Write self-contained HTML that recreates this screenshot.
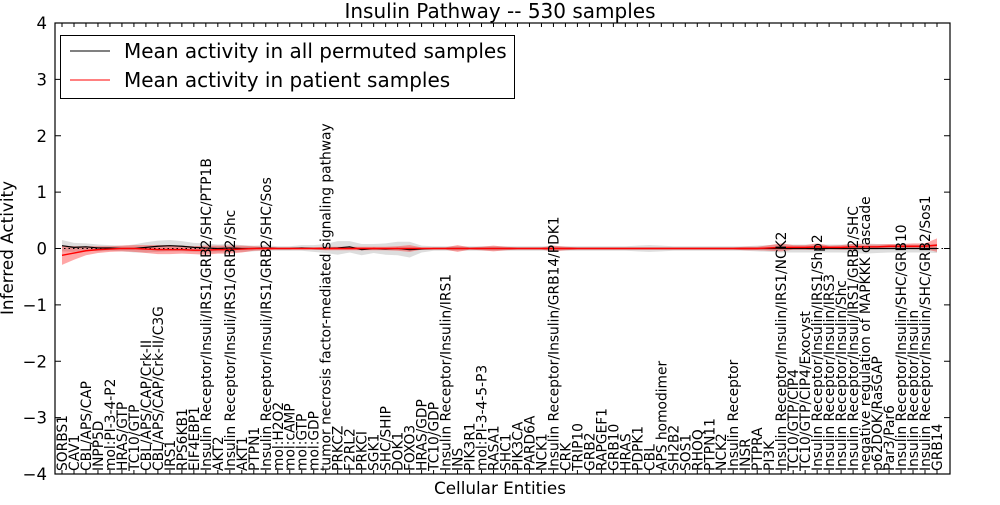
<!DOCTYPE html>
<html><head><meta charset="utf-8"><style>
body{margin:0;background:#fff;font-family:"Liberation Sans","DejaVu Sans",sans-serif;}
svg text{font-family:"DejaVu Sans","Liberation Sans",sans-serif;}
</style></head><body>
<svg id="chart" width="1000" height="500" xmlns="http://www.w3.org/2000/svg">
<rect width="1000" height="500" fill="#fff"/>
<g id="plot"></g>
</svg>
<script>
const categories=["SORBS1","CAV1","CBL/APS/CAP","INPP5D","mol:PI-3-4-P2","HRAS/GTP","TC10/GTP","CBL/APS/CAP/Crk-II","CBL/APS/CAP/Crk-II/C3G","IRS1","RPS6KB1","EIF4EBP1","Insulin Receptor/Insuli/IRS1/GRB2/SHC/PTP1B","AKT2","Insulin Receptor/Insuli/IRS1/GRB2/Shc","AKT1","PTPN1","Insulin Receptor/Insuli/IRS1/GRB2/SHC/Sos","mol:H2O2","mol:cAMP","mol:GTP","mol:GDP","tumor necrosis factor-mediated signaling pathway","PRKCZ","F2RL2","PRKCI","SGK1","SHC/SHIP","DOK1","FOXO3","HRAS/GDP","TC10/GDP","Insulin Receptor/Insulin/IRS1","INS","PIK3R1","mol:PI-3-4-5-P3","RASA1","SHC1","PIK3CA","PARD6A","NCK1","Insulin Receptor/Insulin/GRB14/PDK1","CRK","TRIP10","GRB2","RAPGEF1","GRB10","HRAS","PDPK1","CBL","APS homodimer","SH2B2","SOS1","RHOQ","PTPN11","NCK2","Insulin Receptor","INSR","PTPRA","PI3K","Insulin Receptor/Insulin/IRS1/NCK2","TC10/GTP/CIP4","TC10/GTP/CIP4/Exocyst","Insulin Receptor/Insulin/IRS1/Shp2","Insulin Receptor/Insulin/IRS3","Insulin Receptor/Insulin/Shc","Insulin Receptor/Insuli/IRS1/GRB2/SHC","negative regulation of MAPKKK cascade","p62DOK/RasGAP","Par3/Par6","Insulin Receptor/Insulin/SHC/GRB10","Insulin Receptor/Insulin","Insulin Receptor/Insulin/SHC/GRB2/Sos1","GRB14"];
const permMean=[0.05,0.02,0.03,0.01,0.01,0.0,0.0,0.02,0.04,0.05,0.04,0.02,0.01,0.0,0.01,0.0,0.0,0.01,0.0,0.0,0.01,0.0,0.0,0.01,0.03,-0.02,0.0,-0.01,0.0,-0.02,-0.01,0.0,0.0,0.0,0.0,0.0,0.0,0.0,0.0,0.0,0.0,0.0,0.0,0.0,0.0,0.0,0.0,0.0,0.0,0.0,0.0,0.0,0.0,0.0,0.0,0.0,0.0,0.0,0.0,0.0,0.0,0.0,0.0,0.0,0.0,0.0,0.0,0.0,0.0,0.0,0.0,0.0,0.0,0.0];
const permSpread=[0.1,0.08,0.06,0.06,0.05,0.05,0.07,0.09,0.1,0.1,0.09,0.08,0.08,0.07,0.07,0.06,0.05,0.05,0.04,0.04,0.05,0.06,0.08,0.12,0.1,0.1,0.08,0.1,0.12,0.14,0.06,0.04,0.04,0.04,0.04,0.04,0.04,0.04,0.04,0.04,0.04,0.04,0.04,0.04,0.04,0.04,0.04,0.04,0.05,0.06,0.05,0.04,0.04,0.04,0.04,0.04,0.04,0.04,0.05,0.06,0.07,0.07,0.07,0.07,0.07,0.07,0.08,0.09,0.08,0.07,0.07,0.07,0.07,0.08];
const patMean=[-0.12,-0.08,-0.04,-0.02,-0.01,0.0,0.0,-0.01,-0.02,-0.02,-0.02,-0.03,-0.03,-0.02,-0.02,-0.01,0.0,0.0,0.0,0.0,0.0,0.0,0.0,0.0,0.0,0.0,0.0,0.0,0.0,0.0,0.0,0.0,0.0,0.0,0.0,0.0,0.0,0.0,0.0,0.0,0.0,0.0,0.0,0.0,0.0,0.0,0.0,0.0,0.0,0.0,0.0,0.0,0.0,0.0,0.0,0.0,0.0,0.0,0.0,0.01,0.02,0.02,0.02,0.03,0.02,0.02,0.03,0.03,0.03,0.04,0.04,0.04,0.04,0.06];
const patSpread=[0.17,0.12,0.08,0.06,0.05,0.05,0.06,0.07,0.08,0.08,0.07,0.07,0.08,0.07,0.07,0.06,0.04,0.03,0.02,0.02,0.02,0.02,0.03,0.03,0.03,0.03,0.03,0.03,0.04,0.06,0.02,0.02,0.02,0.06,0.02,0.03,0.05,0.03,0.02,0.02,0.02,0.05,0.03,0.02,0.02,0.02,0.02,0.02,0.02,0.02,0.02,0.02,0.02,0.02,0.02,0.02,0.02,0.03,0.03,0.05,0.07,0.04,0.04,0.06,0.03,0.04,0.05,0.04,0.04,0.04,0.04,0.05,0.05,0.12];
const yTicks=[-4,-3,-2,-1,0,1,2,3,4];

const L=55,R=950,T=23,B=474;
const X=i=>62+i*((937-62)/(categories.length-1));
const Y=v=>T+(4-v)/8*(B-T);
const NS="http://www.w3.org/2000/svg";
const g=document.getElementById('plot');
function mk(tag,attrs,parent){const e=document.createElementNS(NS,tag);for(const k in attrs)e.setAttribute(k,attrs[k]);(parent||g).appendChild(e);return e;}
function band(mean,spread){let up=mean.map((m,i)=>X(i)+","+Y(m+spread[i]));let dn=mean.map((m,i)=>X(i)+","+Y(m-spread[i])).reverse();return up.concat(dn).join(" ");}
function line(mean){return mean.map((m,i)=>X(i)+","+Y(m)).join(" ");}

let e;
e=mk('polygon',{points:band(permMean,permSpread),fill:'#bbbbbb','fill-opacity':0.5});


e=mk('polygon',{points:band(patMean,patSpread),fill:'#ff0000','fill-opacity':0.35});


e=mk('line',{x1:L,x2:R,y1:Y(0),y2:Y(0),stroke:'#000','stroke-dasharray':'1.5,3','stroke-width':1});


e=mk('polyline',{points:line(permMean),fill:'none',stroke:'#000','stroke-width':1.2});


e=mk('polyline',{points:line(patMean),fill:'none',stroke:'#ff0000','stroke-width':1.4});



categories.forEach((c,i)=>{
  const x=X(i);
  const t=mk('text',{x:0,y:0,transform:`translate(${x+5},${B-3}) rotate(-90)`,'font-size':13.8,fill:'#000'});
  t.textContent=c;
  
  
  const tk=mk('line',{x1:x,x2:x,y1:B,y2:B-4,stroke:'#000'});
  
  
  const tk2=mk('line',{x1:x,x2:x,y1:T,y2:T+4,stroke:'#000'});
  
  
});
yTicks.forEach(v=>{
  const y=Y(v);
  const t=mk('text',{x:47,y:y+6,'text-anchor':'end','font-size':16.5,fill:'#000'});
  t.textContent=v<0?'\u2212'+(-v):String(v);
  
  
  const a=mk('line',{x1:L,x2:L+6,y1:y,y2:y,stroke:'#000'});
  
  
  const b=mk('line',{x1:R,x2:R-6,y1:y,y2:y,stroke:'#000'});
  
  
});
e=mk('rect',{x:L,y:T,width:R-L,height:B-T,fill:'none',stroke:'#000','stroke-width':1.2});


e=mk('text',{x:500,y:18,'text-anchor':'middle','font-size':20});
e.textContent='Insulin Pathway -- 530 samples';


e=mk('text',{x:500,y:494,'text-anchor':'middle','font-size':16.8});
e.textContent='Cellular Entities';


e=mk('text',{x:0,y:0,transform:'translate(13,248) rotate(-90)','text-anchor':'middle','font-size':16.8});
e.textContent='Inferred Activity';


const lg=mk('g',{});


mk('rect',{x:60.5,y:35.5,width:454,height:63,fill:'#fff',stroke:'#000'},lg);
e=mk('line',{x1:70,x2:110,y1:51,y2:51,stroke:'#000'},lg);


e=mk('text',{x:124,y:58,'font-size':20},lg);
e.textContent='Mean activity in all permuted samples';


e=mk('line',{x1:70,x2:110,y1:80,y2:80,stroke:'#f00'},lg);


e=mk('text',{x:124,y:87,'font-size':20},lg);
e.textContent='Mean activity in patient samples';


</script>
</body></html>
